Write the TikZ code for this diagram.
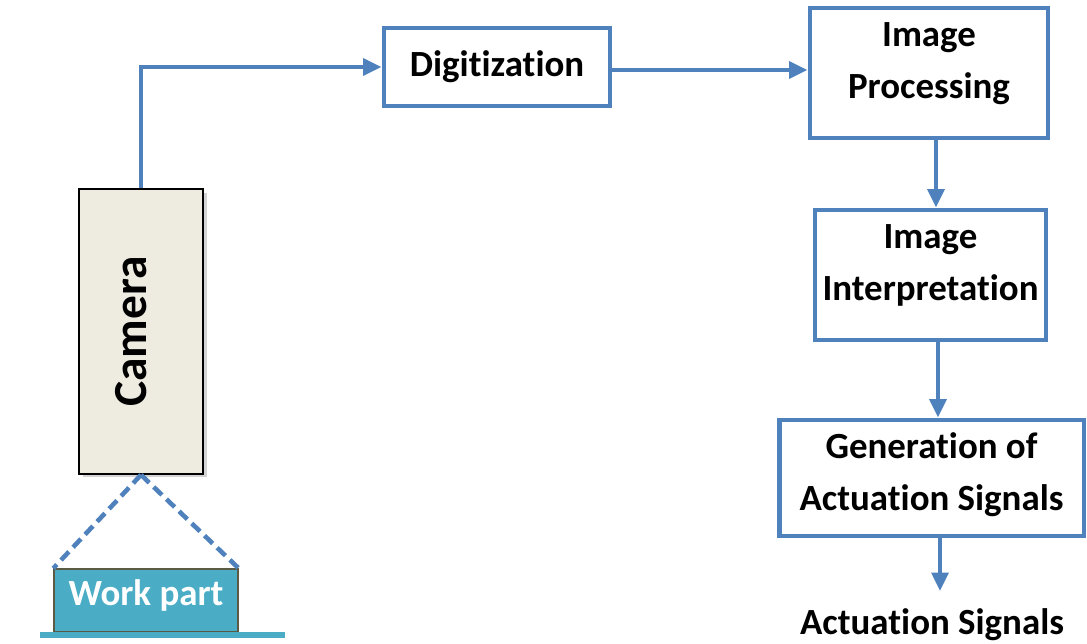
\documentclass[tikz,border=0pt]{standalone}
\usepackage{fontspec}
\setmainfont{Carlito}[Ligatures=NoCommon]
\usetikzlibrary{positioning,arrows.meta,shadows}
\definecolor{flowblue}{HTML}{4F81BD}
\definecolor{camfill}{HTML}{EEECE1}
\definecolor{partfill}{HTML}{4BACC6}
\definecolor{partedge}{HTML}{5B5A45}
\tikzset{%
  >={Triangle[length=10.5pt,width=9.5pt]},
  stage/.style={draw=flowblue,line width=2.8pt,fill=white,align=center,
    font=\fontsize{21}{29.5}\selectfont\bfseries,inner sep=2pt},%
  flow/.style={->,draw=flowblue,line width=2.3pt},%
  sight/.style={draw=flowblue,line width=2.6pt,dash pattern=on 6.5pt off 3.5pt},%
  camerabox/.style={draw=black,line width=1pt,fill=camfill,
    drop shadow={shadow xshift=2pt,shadow yshift=-2pt,opacity=.35}}%
}

\begin{document}
\begin{tikzpicture}[x=0.02cm,y=-0.02cm]
\useasboundingbox (0,0) rectangle (1087,643);

%% camera looking down at the work part
\node[camerabox,minimum width=2.48cm,minimum height=5.7cm] (camera) at (141,331.5) {};
\node[rotate=90,font=\fontsize{27}{32}\selectfont\bfseries] (camlabel)
  at ([xshift=-0.2cm]camera.center) {Camera};
\node[draw=partedge,line width=0.8pt,fill=partfill,text=white,
  minimum width=3.68cm,minimum height=1.26cm,text depth=0.3cm,
  font=\fontsize{21}{25}\selectfont\bfseries] (work) at (146,600.5) {Work part};
\draw[partfill,line width=3.4pt] (40,634.5) -- (285,634.5); % table
\draw[sight] (camera.south) -- (work.north west);
\draw[sight] (camera.south) -- (work.north east);

%% processing chain
\node[stage,minimum width=4.52cm,minimum height=1.56cm] (digit) at (497,67) {Digitization};
\node[stage,minimum width=4.76cm,minimum height=2.6cm,text depth=0.49cm] (improc)
  at (929,73) {Image\\Processing};
\node[stage,minimum width=4.62cm,minimum height=2.6cm,text depth=0.49cm] (interp)
  at (930.5,275) {Image\\Interpretation};
\node[stage,minimum width=6.1cm,minimum height=2.32cm,text depth=0.25cm] (gen)
  at (931.5,478) {Generation of\\Actuation Signals};
\node[font=\fontsize{21}{25}\selectfont\bfseries] (signals) at (932,625) {Actuation Signals};
\coordinate (sigtip) at (940,591);

\draw[flow] (camera.north) |- (digit.west);
\draw[flow] ([yshift=-0.06cm]digit.east) -- ([yshift=-0.06cm]digit.east -| improc.west);
\draw[flow] ([xshift=0.14cm]improc.south) -- ([xshift=0.14cm]improc.south |- interp.north);
\draw[flow] ([xshift=0.15cm]interp.south) -- ([xshift=0.15cm]interp.south |- gen.north);
\draw[flow] (gen.south -| sigtip) -- (sigtip);

\end{tikzpicture}
\end{document}
